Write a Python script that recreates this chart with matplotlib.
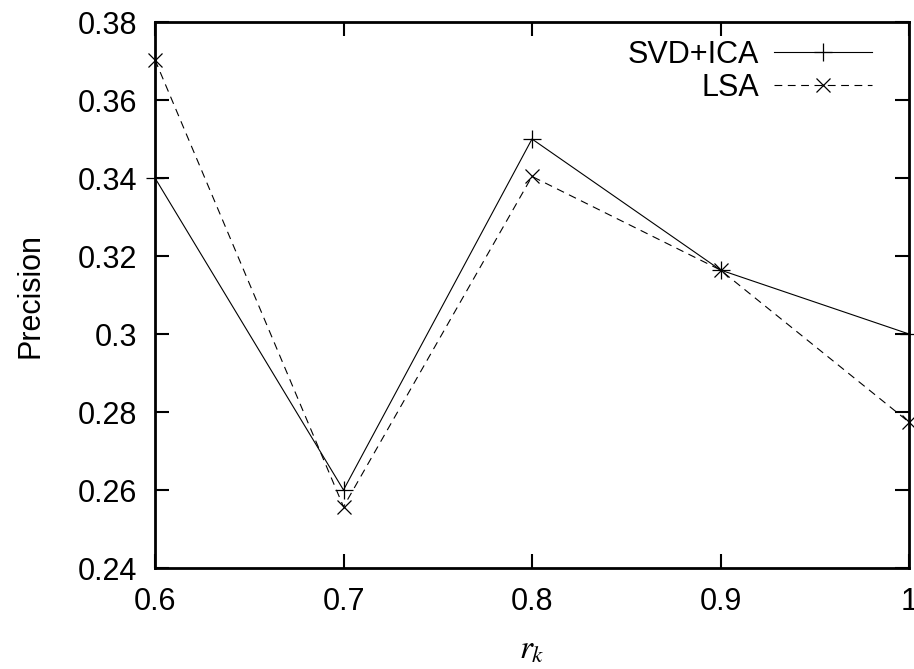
import matplotlib
matplotlib.use("Agg")
import matplotlib.pyplot as plt

x = [0.6, 0.7, 0.8, 0.9, 1.0]
svd_ica = [0.34, 0.26, 0.35, 0.3164, 0.30]
lsa = [0.3703, 0.2557, 0.3404, 0.3164, 0.2774]
xticks = [0.6, 0.7, 0.8, 0.9, 1.0]
xticklabels = ["0.6", "0.7", "0.8", "0.9", "1"]
yticks = [0.24, 0.26, 0.28, 0.30, 0.32, 0.34, 0.36, 0.38]
yticklabels = ["0.24", "0.26", "0.28", "0.3", "0.32", "0.34", "0.36", "0.38"]

plt.rcParams['font.family'] = ['Liberation Sans', 'DejaVu Sans']
plt.rcParams['mathtext.fontset'] = 'stix'

fig = plt.figure(figsize=(9.14, 6.69), dpi=100)
ax = fig.add_axes([155/914, 101/669, (909-155)/914, (568-22)/669])

ax.plot(x, svd_ica, color='black', lw=0.8, marker='+', ms=13, mew=0.9, label='SVD+ICA', clip_on=False)
ax.plot(x, lsa, color='black', lw=0.8, ls=(0, (7, 5)), marker='x', ms=10, mew=0.9, label='LSA', clip_on=False)

ax.set_xlim(0.6, 1.0)
ax.set_ylim(0.24, 0.38)
ax.set_xticks(xticks)
ax.set_xticklabels(xticklabels)
ax.set_yticks(yticks)
ax.set_yticklabels(yticklabels)
ax.tick_params(direction='in', length=10, width=1.5, labelsize=22, top=True, right=True)
ax.tick_params(axis='x', pad=14)
ax.tick_params(axis='y', pad=13)
for s in ax.spines.values():
    s.set_linewidth(2.0)

ax.set_ylabel('Precision', fontsize=22, labelpad=23)
ax.set_xlabel('$r_k$', fontsize=24, labelpad=12)

leg = ax.legend(loc='upper right', frameon=False, markerfirst=False, fontsize=22,
                handlelength=3.2, borderaxespad=0, borderpad=0, labelspacing=0.1, handletextpad=0.5,
                bbox_to_anchor=(872/914, (669-40)/669), bbox_transform=fig.transFigure)

fig.savefig('out.png', dpi=100)
